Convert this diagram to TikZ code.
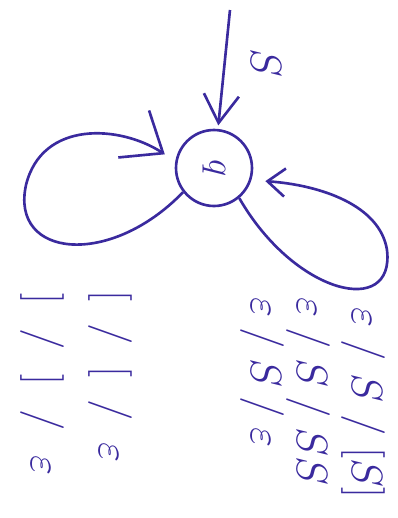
\documentclass[tikz,border=0pt]{standalone}
\usetikzlibrary{arrows.meta}
\definecolor{ink}{RGB}{58,42,158}
\newcommand{\slsh}[1][6]{\mkern#1mu/\mkern#1mu}
\tikzset{
  state/.style={circle,draw=ink,line width=1.5pt,minimum size=1.52cm,inner sep=0pt,text=ink,font=\fontsize{20}{24}\selectfont},
  trans/.style={ink,line width=1.5pt},
  lbl/.style={text=ink,rotate=-90,anchor=west,inner sep=0pt,font=\fontsize{30}{34}\selectfont}
}
\begin{document}
\begin{tikzpicture}[x=0.02cm,y=-0.02cm]
        \useasboundingbox (0,0) rectangle (397,518);
        \node[state] (q) at (214,168) {\rotatebox{-90}{$q$}};
        \coordinate (start) at (230,10);
        \draw[trans,-{Straight Barb[length=16pt,width=20pt]},shorten >=2pt] (start) -- (q);
        \node[text=ink,rotate=-90,font=\fontsize{30}{34}\selectfont] (s) at (266,63) {$S$};
        \draw[trans,-{Straight Barb[length=20pt,width=32pt]},shorten >=0.25cm] (q.218) .. controls (110,268) and (10,258) .. (26,185) .. controls (42,120) and (120,125) .. (q.170);
        \draw[trans,-{Straight Barb[length=10pt,width=16pt]},shorten >=0.28cm] (q.-50) .. controls (295,295) and (395,318) .. (387,250) .. controls (380,205) and (320,185) .. (q.-18);
        \node[lbl] (l1) at (42,293) {$]\slsh[10]]\slsh[10]\varepsilon$};
        \node[lbl] (l2) at (110,290) {$[\slsh[9][\slsh[9]\varepsilon$};
        \node[lbl] (r1) at (262,297) {$\varepsilon\slsh[4]S\slsh[4]\varepsilon$};
        \node[lbl] (r2) at (308,297) {$\varepsilon\slsh[4]S\slsh[4]SS$};
        \node[lbl] (r3) at (363,307) {$\varepsilon\slsh[5]S\slsh[5][S]$};
     \end{tikzpicture}
\end{document}
